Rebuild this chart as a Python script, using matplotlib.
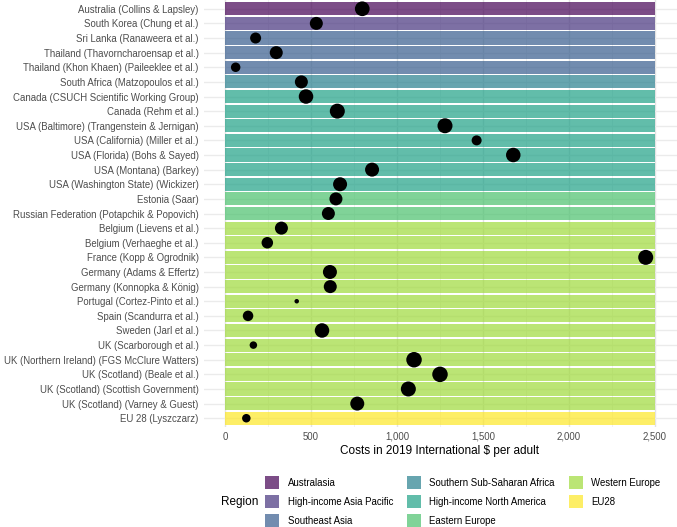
import numpy as np
import matplotlib
matplotlib.use("Agg")
import matplotlib.pyplot as plt
from matplotlib.patches import Patch

plt.rcParams['font.family'] = ['Liberation Sans', 'DejaVu Sans']

studies = [
    "Australia (Collins & Lapsley)",
    "South Korea (Chung et al.)",
    "Sri Lanka (Ranaweera et al.)",
    "Thailand (Thavorncharoensap et al.)",
    "Thailand (Khon Khaen) (Paileeklee et al.)",
    "South Africa (Matzopoulos et al.)",
    "Canada (CSUCH Scientific Working Group)",
    "Canada (Rehm et al.)",
    "USA (Baltimore) (Trangenstein & Jernigan)",
    "USA (California) (Miller et al.)",
    "USA (Florida) (Bohs & Sayed)",
    "USA (Montana) (Barkey)",
    "USA (Washington State) (Wickizer)",
    "Estonia (Saar)",
    "Russian Federation (Potapchik & Popovich)",
    "Belgium (Lievens et al.)",
    "Belgium (Verhaeghe et al.)",
    "France (Kopp & Ogrodnik)",
    "Germany (Adams & Effertz)",
    "Germany (Konnopka & König)",
    "Portugal (Cortez-Pinto et al.)",
    "Spain (Scandurra et al.)",
    "Sweden (Jarl et al.)",
    "UK (Scarborough et al.)",
    "UK (Northern Ireland) (FGS McClure Watters)",
    "UK (Scotland) (Beale et al.)",
    "UK (Scotland) (Scottish Government)",
    "UK (Scotland) (Varney & Guest)",
    "EU 28 (Lyszczarz)",
]

region = [
    "Australasia",
    "High-income Asia Pacific",
    "Southeast Asia", "Southeast Asia", "Southeast Asia",
    "Southern Sub-Saharan Africa",
    "High-income North America", "High-income North America",
    "High-income North America", "High-income North America",
    "High-income North America", "High-income North America",
    "High-income North America",
    "Eastern Europe", "Eastern Europe",
    "Western Europe", "Western Europe", "Western Europe", "Western Europe",
    "Western Europe", "Western Europe", "Western Europe", "Western Europe",
    "Western Europe", "Western Europe", "Western Europe", "Western Europe",
    "Western Europe",
    "EU28",
]

cost = [798, 531, 178, 298, 62, 444, 471, 653, 1279, 1463, 1676, 855, 669,
        645, 601, 328, 246, 2446, 610, 612, 417, 134, 564, 165, 1099, 1250,
        1066, 769, 124]

# value mapped to point size (relative)
size_var = [14.7, 13, 11, 13, 9.5, 13, 14.5, 15, 15, 10, 14.5, 14, 14,
            13, 13, 13, 11.5, 15, 14, 13, 4.5, 10.5, 14.5, 7.5, 15.5, 15.5,
            15, 14, 8.5]

region_levels = ["Australasia", "High-income Asia Pacific", "Southeast Asia",
                 "Southern Sub-Saharan Africa", "High-income North America",
                 "Eastern Europe", "Western Europe", "EU28"]
region_colors = ["#440154", "#46337E", "#365C8D", "#277F8E", "#1FA187",
                 "#4AC16D", "#9FDA3A", "#FDE725"]

x_ticks = [0, 500, 1000, 1500, 2000, 2500]
x_tick_labels = ["0", "500", "1,000", "1,500", "2,000", "2,500"]
bar_max = 2500

cmap = dict(zip(region_levels, region_colors))

fig = plt.figure(figsize=(6.77, 5.27), dpi=100)
ax = fig.add_axes([203.5 / 677, 100 / 527, 473 / 677, 427 / 527])

n = len(studies)
y = np.arange(n)

# grid
for v in x_ticks:
    ax.axvline(v, color="#E3E3E3", lw=1.0, zorder=0)
for v in np.arange(250, 2500, 500):
    ax.axvline(v, color="#EFEFEF", lw=0.6, zorder=0)
for yy in y:
    ax.axhline(yy, color="#EBEBEB", lw=1.0, zorder=0)

ax.barh(y, [bar_max] * n, left=0, height=0.9,
        color=[cmap[r] for r in region], alpha=0.7, edgecolor="none", zorder=1)

sizes = (np.array(size_var) * 0.72) ** 2
ax.scatter(cost, y, s=sizes, color="black", edgecolors="none", zorder=3)

ax.set_xlim(-125, 2625)
ax.set_ylim(n - 1 + 0.6, -0.6)
ax.set_yticks(y)
ax.set_yticklabels(studies, fontsize=6.9, color="#4D4D4D")
ax.set_xticks(x_ticks)
ax.set_xticklabels(x_tick_labels, fontsize=6.9, color="#4D4D4D")
ax.tick_params(length=0, pad=3.5)
ax.set_xlabel("Costs in 2019 International $ per adult", fontsize=8.5,
              labelpad=2.5)
for s in ax.spines.values():
    s.set_visible(False)

handles = [Patch(facecolor=c, alpha=0.7, edgecolor="none") for c in region_colors]
leg = fig.legend(handles, region_levels, ncol=3, loc="center left",
                 bbox_to_anchor=(265 / 677, 1 - 501.5 / 527), frameon=False,
                 fontsize=6.9, handlelength=1.45, handleheight=1.6,
                 columnspacing=1.45, labelspacing=0.7, handletextpad=0.9,
                 borderpad=0, borderaxespad=0)
fig.text(220.5 / 677, 1 - 501.5 / 527, "Region", fontsize=8.5, va="center",
         ha="left")

fig.savefig("out.png", dpi=100)
